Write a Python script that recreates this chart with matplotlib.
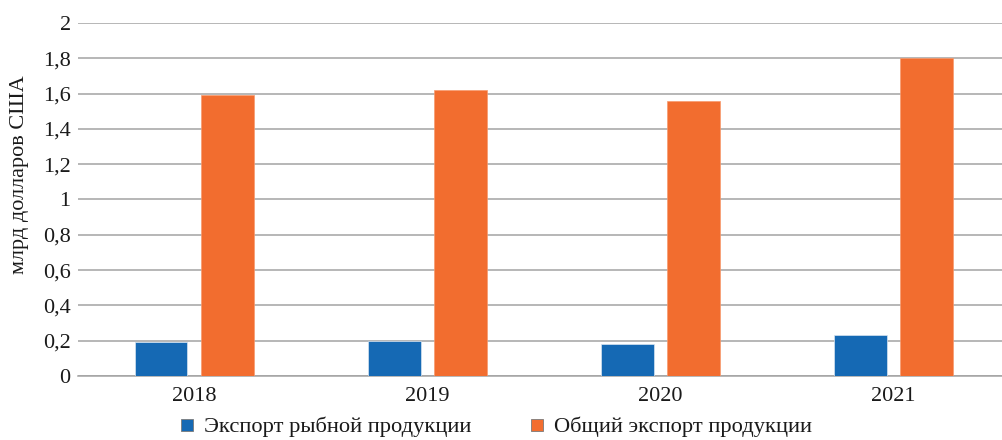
import numpy as np
import matplotlib
matplotlib.use('Agg')
import matplotlib.pyplot as plt
from matplotlib.lines import Line2D
from matplotlib.ticker import FuncFormatter

# data
years = ['2018', '2019', '2020', '2021']
fish_export = [0.19, 0.20, 0.18, 0.23]
total_export = [1.59, 1.62, 1.56, 1.80]
yticks = [0, 0.2, 0.4, 0.6, 0.8, 1, 1.2, 1.4, 1.6, 1.8, 2]

blue = '#1569B4'
orange = '#F26D2F'
grid_col = '#A3A3A3'

plt.rcParams['font.family'] = ['Liberation Serif', 'DejaVu Serif']
plt.rcParams['font.size'] = 16

fig = plt.figure(figsize=(10.02, 4.4), dpi=100)
ax = fig.add_axes([0.0775, 0.1455, 0.9306, 0.8023])

x = np.arange(len(years))
w = 0.226
ax.bar(x - 0.142, fish_export, w, color=blue, edgecolor='#d8e4f0', linewidth=0.5, zorder=3)
ax.bar(x + 0.142, total_export, w, color=orange, edgecolor='#f79a6e', linewidth=0.5, zorder=3)

ax.set_xlim(-0.5, 3.5)
ax.set_ylim(0, 2)
ax.set_xticks(x)
ax.set_xticklabels(years)
ax.set_yticks(yticks)
ax.yaxis.set_major_formatter(FuncFormatter(lambda v, p: ('%g' % v).replace('.', ',')))
ax.tick_params(axis='both', length=0, colors='#1a1a1a')
ax.tick_params(axis='y', pad=5)
ax.tick_params(axis='x', pad=8)

ax.grid(axis='y', color=grid_col, linewidth=1.1, zorder=0)
for s in ['top', 'right', 'left']:
    ax.spines[s].set_visible(False)
ax.spines['bottom'].set_color(grid_col)
ax.spines['bottom'].set_linewidth(1.1)

fig.text(20 / 1002, 1 - 175 / 440, 'млрд долларов США', rotation=90,
         ha='center', va='center', color='#1a1a1a')

handles = [Line2D([], [], marker='s', linestyle='none', markersize=8,
                  markerfacecolor=blue, markeredgecolor='#7a7a7a', markeredgewidth=0.6),
           Line2D([], [], marker='s', linestyle='none', markersize=8,
                  markerfacecolor=orange, markeredgecolor='#7a7a7a', markeredgewidth=0.6)]
fig.legend(handles, ['Экспорт рыбной продукции', 'Общий экспорт продукции'],
           loc='center', bbox_to_anchor=(496 / 1002, 1 - 427 / 440), ncol=2,
           frameon=False, handlelength=0.6, handletextpad=0.45, columnspacing=2.6,
           borderpad=0, labelcolor='#1a1a1a', fontsize=16.2)

fig.savefig('out.png', dpi=100)
